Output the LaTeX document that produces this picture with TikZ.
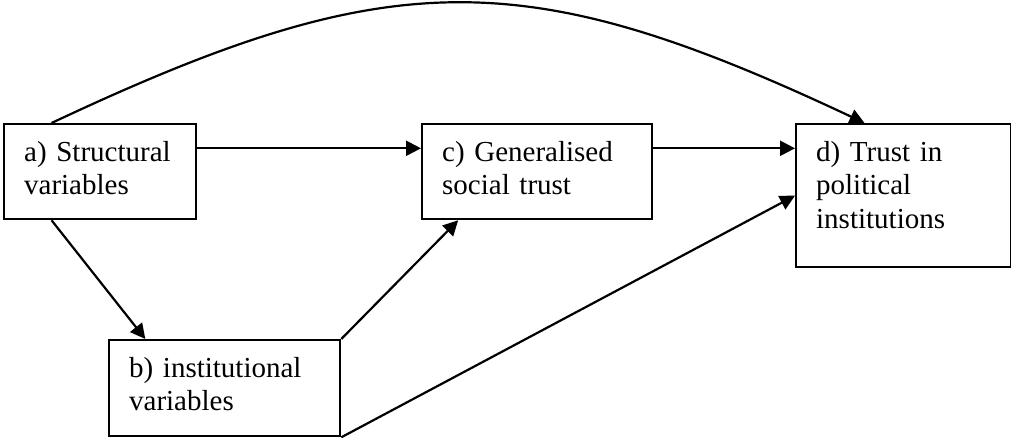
\documentclass[tikz,border=0pt]{standalone}
\usepackage{fontspec}
\setmainfont{Liberation Serif}
\usetikzlibrary{arrows.meta,calc}
\tikzset{
  varbox/.style={rectangle, draw=black, line width=2.3pt, anchor=north west, align=left, inner xsep=20pt, inner ysep=0pt, text height=37pt, text depth=58pt, font=\fontsize{29}{33.5}\selectfont},
  varrow/.style={-{Triangle[length=15pt,width=15pt]}, line width=2.2pt}
}

\begin{document}
\begin{tikzpicture}[x=1pt,y=-1pt]
\useasboundingbox (0,0) rectangle (1011,438);
\node[varbox, text width=152pt] (struct) at (3,123) {a) Structural\\variables};
\node[varbox, text width=190pt] (social) at (421,123) {c) Generalised\\social trust};
\node[varbox, text width=175pt, text depth=106pt] (political) at (795,123) {d) Trust in\\political\\institutions};
\node[varbox, text width=191pt, text depth=59pt] (inst) at (108,339) {b) institutional\\variables};
\coordinate (struct-e) at ($(struct.north east)!.26!(struct.south east)$);
\coordinate (social-e) at ($(social.north east)!.26!(social.south east)$);
\draw[varrow] (struct-e) -- (struct-e -| social.west);
\draw[varrow] (social-e) -- (social-e -| political.west);
\draw[varrow] ($(struct.south west)!.25!(struct.south east)$) -- ($(inst.north west)!.16!(inst.north east)$);
\draw[varrow] (inst.north east) -- ($(social.south west)!.16!(social.south east)$);
\draw[varrow] (inst.south east) -- (political.west);
\draw[varrow] ($(struct.north west)!.25!(struct.north east)$) .. controls +(340,-160) and +(-340,-160) .. ($(political.north west)!.32!(political.north east)$);
\end{tikzpicture}
\end{document}
